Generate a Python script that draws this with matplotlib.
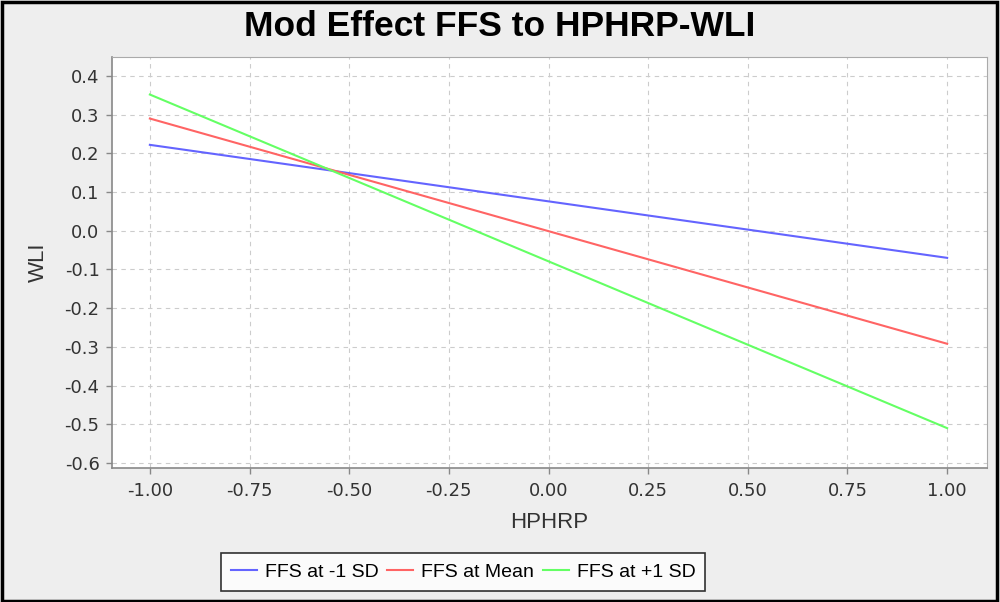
import matplotlib
matplotlib.use("Agg")
import matplotlib.pyplot as plt
from matplotlib.patches import Rectangle
import numpy as np

plt.rcParams['font.family'] = ['Liberation Sans', 'DejaVu Sans']

x_vals = [-1.0, 1.0]
low_sd = [0.222, -0.070]
mean_vals = [0.290, -0.292]
high_sd = [0.352, -0.510]
series_names = ["FFS at -1 SD", "FFS at Mean", "FFS at +1 SD"]
series_colors = ["#6464ff", "#ff6464", "#64ff64"]

xticks = [-1.0, -0.75, -0.5, -0.25, 0.0, 0.25, 0.5, 0.75, 1.0]
yticks = [-0.6, -0.5, -0.4, -0.3, -0.2, -0.1, 0.0, 0.1, 0.2, 0.3, 0.4]

fig = plt.figure(figsize=(10, 6.02), dpi=100, facecolor="#eeeeee")
ax = fig.add_axes([0.112, 1 - 468 / 602, 0.875, 411 / 602])
ax.set_facecolor("white")

for vals, name, col in zip([low_sd, mean_vals, high_sd], series_names, series_colors):
    ax.plot(x_vals, vals, color=col, lw=1.5, label=name)

ax.set_xlim(-1.095, 1.1)
ax.set_ylim(-0.613, 0.449)
ax.set_xticks(xticks)
ax.set_xticklabels(["%.2f" % v for v in xticks], family="DejaVu Sans")
ax.set_yticks(yticks)
ax.set_yticklabels(["%.1f" % v for v in yticks], family="DejaVu Sans")
ax.grid(True, color="#cccccc", linestyle=(0, (4, 4)), lw=0.8)
ax.tick_params(colors="#888888", labelcolor="#333333", labelsize=13, length=4, width=1)
ax.tick_params(axis="y", pad=5)
ax.tick_params(axis="x", pad=6)

for s in ["left", "bottom"]:
    ax.spines[s].set_color("#888888")
    ax.spines[s].set_linewidth(1.2)
for s in ["top", "right"]:
    ax.spines[s].set_color("#aaaaaa")
    ax.spines[s].set_linewidth(0.8)

ax.set_xlabel("HPHRP", fontsize=16, color="#333333", labelpad=9)
ax.set_ylabel("WLI", fontsize=16, color="#333333", labelpad=11)
fig.text(0.5, 1 - 26 / 602, "Mod Effect FFS to HPHRP-WLI", fontsize=25.5,
         fontweight="bold", ha="center", va="center")

leg = fig.legend(loc="center", bbox_to_anchor=(0.463, 1 - 572 / 602), ncol=3,
                 fontsize=14, frameon=True, fancybox=False, handlelength=1.35,
                 handletextpad=0.4, columnspacing=0.45, borderpad=0.5)
leg.get_frame().set_edgecolor("black")
leg.get_frame().set_linewidth(1.2)

fig.patches.append(Rectangle((0.002, 0.002), 0.995, 0.994, transform=fig.transFigure,
                             fill=False, edgecolor="black", lw=2.5))

fig.savefig("out.png", dpi=100, facecolor=fig.get_facecolor())
